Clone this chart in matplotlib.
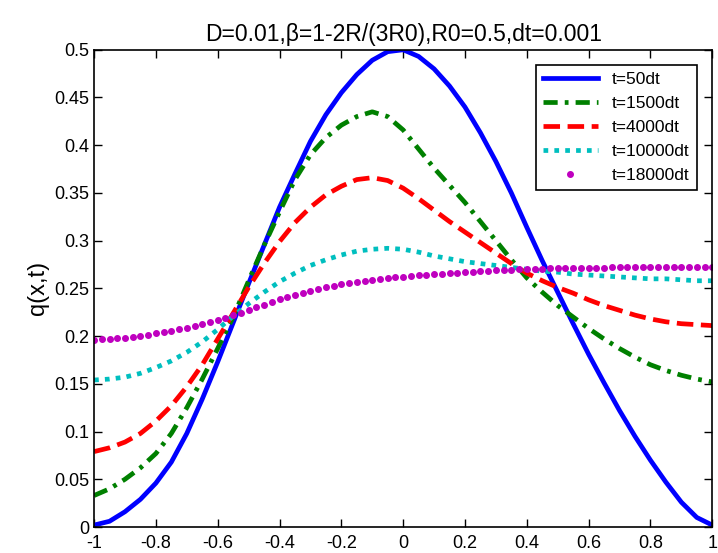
import numpy as np
import matplotlib
matplotlib.use("Agg")
import matplotlib.pyplot as plt

plt.rcParams["font.family"] = ["Liberation Sans", "DejaVu Sans"]

# 位置网格 (步长 0.05)
x = np.linspace(-1, 1, 41)

# t=50dt
q50 = [0.002, 0.006, 0.016, 0.029, 0.046, 0.068, 0.098, 0.134, 0.173, 0.214,
       0.255, 0.295, 0.335, 0.370, 0.404, 0.432, 0.455, 0.474, 0.489, 0.498,
       0.500, 0.493, 0.480, 0.462, 0.440, 0.413, 0.383, 0.350, 0.314, 0.279,
       0.246, 0.213, 0.181, 0.151, 0.122, 0.095, 0.070, 0.047, 0.026, 0.010, 0.002]
# t=1500dt
q1500 = [0.033, 0.040, 0.050, 0.062, 0.077, 0.098, 0.125, 0.155, 0.187, 0.220,
         0.258, 0.295, 0.330, 0.364, 0.390, 0.408, 0.421, 0.430, 0.435, 0.430,
         0.416, 0.396, 0.376, 0.358, 0.340, 0.320, 0.300, 0.280, 0.261, 0.246,
         0.232, 0.220, 0.208, 0.197, 0.187, 0.178, 0.170, 0.164, 0.159, 0.155, 0.152]
# t=4000dt
q4000 = [0.079, 0.083, 0.089, 0.098, 0.111, 0.127, 0.147, 0.170, 0.197, 0.224,
         0.251, 0.276, 0.299, 0.319, 0.335, 0.348, 0.357, 0.364, 0.366, 0.363,
         0.355, 0.344, 0.332, 0.320, 0.309, 0.298, 0.287, 0.276, 0.266, 0.258,
         0.251, 0.245, 0.238, 0.232, 0.227, 0.222, 0.218, 0.215, 0.213, 0.212, 0.211]
# t=10000dt
q10000 = [0.154, 0.155, 0.157, 0.161, 0.167, 0.174, 0.183, 0.194, 0.207, 0.221,
          0.234, 0.246, 0.257, 0.266, 0.274, 0.280, 0.285, 0.289, 0.291, 0.292,
          0.291, 0.288, 0.284, 0.281, 0.278, 0.276, 0.274, 0.272, 0.270, 0.268,
          0.267, 0.265, 0.264, 0.263, 0.262, 0.261, 0.260, 0.260, 0.259, 0.258, 0.258]

# t=18000dt (步长 0.025)
x_fine = np.linspace(-1, 1, 81)
q18000 = [0.196, 0.197, 0.197, 0.198, 0.198, 0.199, 0.200, 0.201, 0.203, 0.204,
          0.205, 0.207, 0.209, 0.211, 0.213, 0.215, 0.217, 0.219, 0.222, 0.224,
          0.227, 0.230, 0.233, 0.236, 0.239, 0.241, 0.243, 0.245, 0.247, 0.249,
          0.251, 0.253, 0.255, 0.256, 0.257, 0.258, 0.259, 0.260, 0.261, 0.262,
          0.262, 0.263, 0.264, 0.264, 0.265, 0.265, 0.266, 0.266, 0.267, 0.267,
          0.268, 0.268, 0.269, 0.269, 0.269, 0.270, 0.270, 0.270, 0.270, 0.271,
          0.271, 0.271, 0.271, 0.271, 0.271, 0.271, 0.271, 0.272, 0.272, 0.272,
          0.272, 0.272, 0.272, 0.272, 0.272, 0.272, 0.272, 0.272, 0.272, 0.272, 0.272]

labels = ["t=50dt", "t=1500dt", "t=4000dt", "t=10000dt", "t=18000dt"]

fig = plt.figure(figsize=(7.18, 5.53), dpi=100)
ax = fig.add_axes([0.131, 0.047, 0.861, 0.863])

ax.plot(x, q50, color="#0000ff", lw=3.4, ls="-", label=labels[0])
ax.plot(x, q1500, color="#008000", lw=3.4, ls=(0, (3, 1.5, 0.8, 1.5)), label=labels[1])
ax.plot(x, q4000, color="#ff0000", lw=3.4, ls=(0, (3.5, 1.6)), label=labels[2])
ax.plot(x, q10000, color="#00bfbf", lw=3.4, ls=(0, (1, 1.3)), label=labels[3])
ax.plot(x_fine, q18000, color="#bf00bf", ls="none", marker=".", ms=8, label=labels[4])

ax.set_xlim(-1, 1)
ax.set_ylim(0, 0.5)
ax.set_xticks(np.arange(-1, 1.01, 0.2))
ax.set_xticklabels(["-1", "-0.8", "-0.6", "-0.4", "-0.2", "0", "0.2", "0.4", "0.6", "0.8", "1"])
ax.set_yticks(np.arange(0, 0.501, 0.05))
ax.set_yticklabels(["0", "0.05", "0.1", "0.15", "0.2", "0.25", "0.3", "0.35", "0.4", "0.45", "0.5"])
ax.tick_params(direction="in", top=True, right=True, length=6, width=1, labelsize=13)
ax.tick_params(axis="x", pad=6)
for s in ax.spines.values():
    s.set_linewidth(1.2)

ax.set_ylabel("q(x,t)", fontsize=17)
ax.set_title("D=0.01,β=1-2R/(3R0),R0=0.5,dt=0.001", fontsize=16.5)

leg = ax.legend(loc="upper right", fontsize=12.5, fancybox=False, edgecolor="black",
                framealpha=1, handlelength=3.2, borderaxespad=0.9)
leg.get_frame().set_linewidth(1.2)

plt.savefig("out.png", dpi=100)
